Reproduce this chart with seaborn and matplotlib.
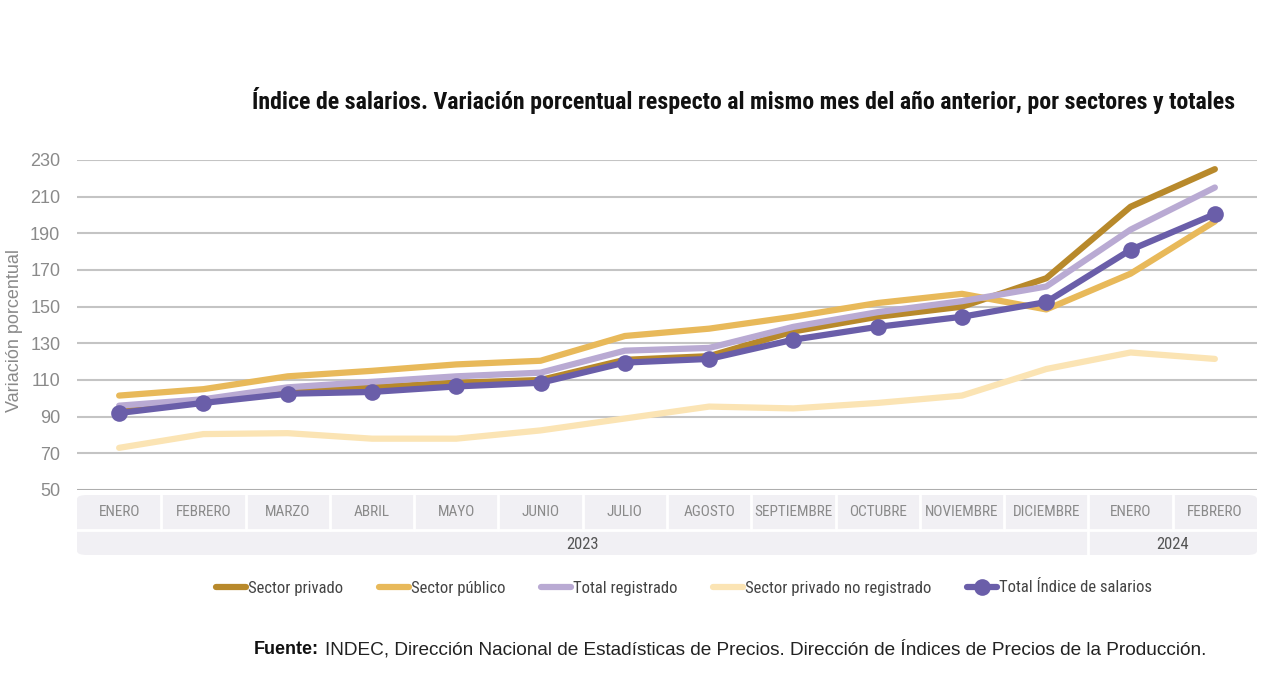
import pandas as pd
import matplotlib.pyplot as plt
import seaborn as sns
from matplotlib import font_manager
from matplotlib.patches import FancyBboxPatch

# Data
meses = ['ENERO', 'FEBRERO', 'MARZO', 'ABRIL', 'MAYO', 'JUNIO', 'JULIO', 'AGOSTO',
         'SEPTIEMBRE', 'OCTUBRE', 'NOVIEMBRE', 'DICIEMBRE', 'ENERO', 'FEBRERO']
anios = ['2023'] * 12 + ['2024'] * 2

sector_privado = [94.5, 98, 104, 106, 108.5, 110, 121, 123, 136.5, 144.5, 150, 165.5, 204.5, 225]
sector_publico = [101.5, 105, 112, 115, 118.5, 120.5, 134, 138, 144.5, 152, 157, 148.5, 168, 196.5]
total_registrado = [96, 99.5, 106, 109, 112, 114, 126, 127.5, 139, 147, 153, 161, 192, 215]
privado_no_registrado = [73, 80.5, 81, 78, 78, 82.5, 89, 95.5, 94.5, 97.5, 101.5, 116, 125, 121.5]
total_indice = [92, 97.5, 102.5, 103.5, 106.5, 108.5, 119.5, 121.5, 132, 139, 144.5, 152.5, 181, 200.5]

series = {
    'Sector privado': sector_privado,
    'Sector público': sector_publico,
    'Total registrado': total_registrado,
    'Sector privado no registrado': privado_no_registrado,
    'Total Índice de salarios': total_indice,
}
colores = {
    'Sector privado': '#b8892b',
    'Sector público': '#e8b95a',
    'Total registrado': '#b9aad3',
    'Sector privado no registrado': '#fbe4b4',
    'Total Índice de salarios': '#6a5ea9',
}
grosor = {
    'Sector privado': 3.2,
    'Sector público': 3.2,
    'Total registrado': 4.2,
    'Sector privado no registrado': 3.2,
    'Total Índice de salarios': 4.5,
}

rows = []
for nombre, vals in series.items():
    for i, v in enumerate(vals):
        rows.append({'pos': i, 'valor': v, 'serie': nombre})
df = pd.DataFrame(rows)

sns.set_style('white')

# pick a condensed font
nombres = {f.name for f in font_manager.fontManager.ttflist}
narrow = 'Liberation Sans'
for cand in ['Roboto Condensed', 'Archivo Narrow', 'IBM Plex Sans Condensed', 'Open Sans Condensed']:
    if cand in nombres:
        narrow = cand
        break
plt.rcParams['font.family'] = [narrow, 'DejaVu Sans']

W, H = 1280, 688
fig = plt.figure(figsize=(12.8, 6.88), dpi=100)
ax = fig.add_axes([77 / W, 1 - 490 / H, 1180 / W, 330 / H])

for nombre in series:
    sub = df[df['serie'] == nombre]
    es_total = nombre == 'Total Índice de salarios'
    sns.lineplot(data=sub, x='pos', y='valor', ax=ax, color=colores[nombre],
                 linewidth=grosor[nombre], marker='o' if es_total else None,
                 markersize=12 if es_total else 0, markeredgewidth=0,
                 label=nombre, sort=False, zorder=5 if es_total else 3, clip_on=False)

ax.set_xlim(-0.5, len(meses) - 0.5)
ax.set_ylim(50, 230)
ax.set_yticks(range(50, 231, 20))
ax.yaxis.grid(True, color='#c4c4c4', linewidth=1.5)
ax.axhline(50, color='#a8a8a8', linewidth=1.8, zorder=1)
ax.set_xticks([])
ax.set_xlabel('')
ax.set_ylabel('')
sns.despine(ax=ax, left=True, bottom=True)
ax.tick_params(axis='y', length=0, pad=12, labelcolor='#8a8a8a', labelsize=13)
for t in ax.get_yticklabels():
    t.set_family('Liberation Sans')
ax.legend().remove()

fig.text(15 / W, 1 - 330 / H, 'Variación porcentual', rotation=90, ha='center', va='center',
         fontsize=13, color='#8a8a8a', family='Liberation Sans')

# category box under the axis
tr = ax.get_xaxis_transform()
y_top, y_mid, y_bot = -5 / 330, -40 / 330, -65 / 330
box = FancyBboxPatch((-0.5, y_bot), len(meses), y_top - y_bot, transform=tr,
                     boxstyle='round,pad=0,rounding_size=0.12', facecolor='#f1f0f4',
                     edgecolor='none', clip_on=False, mutation_aspect=0.1)
ax.add_patch(box)
for i in range(len(meses) - 1):
    x = i + 0.5
    ax.plot([x, x], [y_top, y_mid], transform=tr, color='white', linewidth=2, clip_on=False)
ax.plot([-0.5, len(meses) - 0.5], [y_mid, y_mid], transform=tr, color='white', linewidth=2, clip_on=False)
ax.plot([11.5, 11.5], [y_mid, y_bot], transform=tr, color='white', linewidth=2, clip_on=False)

for i, m in enumerate(meses):
    ax.text(i, (y_top + y_mid) / 2, m, transform=tr, ha='center', va='center',
            fontsize=11, color='#8a8a8a')
for anio in ['2023', '2024']:
    idx = [i for i, a in enumerate(anios) if a == anio]
    ax.text((idx[0] + idx[-1]) / 2, (y_mid + y_bot) / 2 - 0.005, anio, transform=tr,
            ha='center', va='center', fontsize=12, color='#555555')

# title
fig.text(1235 / W, 1 - 100 / H,
         'Índice de salarios. Variación porcentual respecto al mismo mes del año anterior, por sectores y totales',
         ha='right', va='center', fontsize=17.2, fontweight='bold', color='#111111')

# legend
handles, labels = ax.get_legend_handles_labels()
for h in handles:
    h.set_linewidth(4.5)
leg = fig.legend(handles, labels, loc='center', bbox_to_anchor=(684 / W, 1 - 588 / H), ncol=5,
                 frameon=False, fontsize=12, handlelength=1.8, handletextpad=0.1, columnspacing=2.15,
                 labelcolor='#444444')

# source
fig.text(254 / W, 1 - 649 / H, 'Fuente:', ha='left', va='center', fontsize=13,
         fontweight='bold', color='#111111', family='Liberation Sans')
fig.text(325 / W, 1 - 649 / H,
         'INDEC, Dirección Nacional de Estadísticas de Precios. Dirección de Índices de Precios de la Producción.',
         ha='left', va='center', fontsize=13.7, color='#222222', family='Liberation Sans')

fig.savefig('out.png', dpi=100)
